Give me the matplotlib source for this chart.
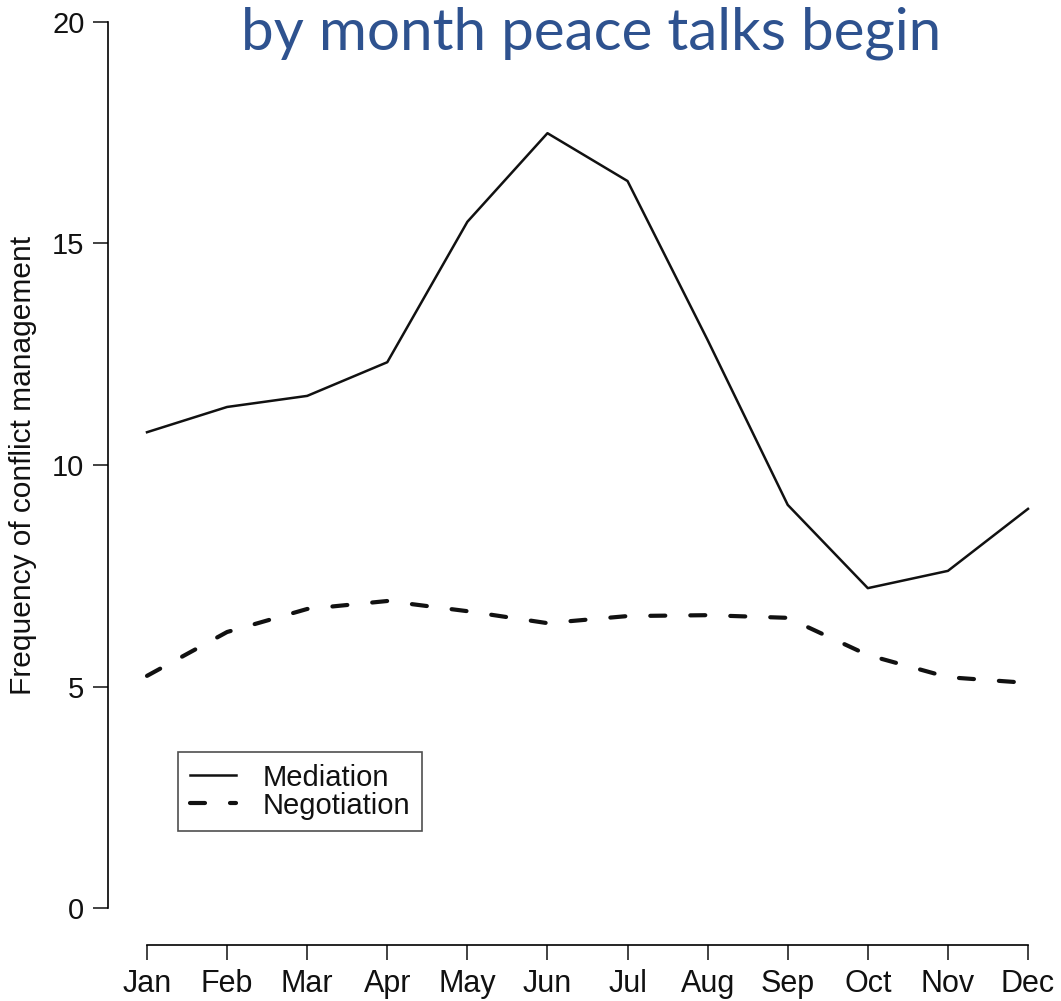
import numpy as np
import matplotlib.pyplot as plt

# ---------------------------
# Data
# ---------------------------
months = ['Jan', 'Feb', 'Mar', 'Apr', 'May', 'Jun',
          'Jul', 'Aug', 'Sep', 'Oct', 'Nov', 'Dec']
mediation = [10.74, 11.31, 11.56, 12.32, 15.49, 17.49,
             16.41, 12.82, 9.10, 7.22, 7.61, 9.01]
negotiation = [5.24, 6.23, 6.75, 6.93, 6.70, 6.43,
               6.59, 6.61, 6.55, 5.71, 5.21, 5.08]
yticks = [0, 5, 10, 15, 20]

W, H = 1061, 1001
fig = plt.figure(figsize=(W / 100, H / 100), dpi=100)
plt.rcParams['font.family'] = ['Liberation Sans', 'DejaVu Sans']

# axes placed in pixel terms: left spine at x=108, bottom axis at y=945, top (20) at y=22
left_px, right_px, top_px, bottom_px = 108, 1061, 22, 945
ax = fig.add_axes([left_px / W, 1 - bottom_px / H,
                   (right_px - left_px) / W, (bottom_px - top_px) / H])

x = np.arange(1, 13)
ax.plot(x, mediation, color='#111111', lw=1.8, label='Mediation')
ax.plot(x, negotiation, color='#111111', lw=3.0, dashes=(3.6, 6.0),
        dash_capstyle='round', label='Negotiation')

px_per_month = (1028 - 147) / 11
ax.set_xlim(1 - (147 - left_px) / px_per_month, 1 + (right_px - 147) / px_per_month)
px_per_unit = (908 - 22) / 20
ax.set_ylim(-(bottom_px - 908) / px_per_unit, 20)

for s in ['top', 'right']:
    ax.spines[s].set_visible(False)
ax.spines['left'].set_bounds(0, 20)
ax.spines['bottom'].set_bounds(1, 12)
ax.spines['left'].set_linewidth(1.2)
ax.spines['bottom'].set_linewidth(1.2)

ax.set_xticks(x)
ax.set_xticklabels(months, fontsize=22)
ax.set_yticks(yticks)
ax.set_yticklabels([str(v) for v in yticks], fontsize=21)
ax.tick_params(axis='both', length=11, width=1.2, color='#222222', labelcolor='#111111')
ax.tick_params(axis='x', pad=6)
ax.tick_params(axis='y', pad=6)

ax.set_ylabel('Frequency of conflict management', fontsize=21.5, color='#111111')
ax.yaxis.set_label_coords((37 - left_px) / (right_px - left_px),
                          (bottom_px - 465) / (bottom_px - top_px))

leg = ax.legend(loc='upper left', bbox_to_anchor=(178 / W, 1 - 752 / H),
                bbox_transform=fig.transFigure, fontsize=21, frameon=True,
                fancybox=False, edgecolor='#222222', handlelength=1.6,
                handletextpad=0.9, borderpad=0.4, labelspacing=0.0,
                borderaxespad=0)
leg.get_frame().set_linewidth(1.2)
for t in leg.get_texts():
    t.set_color('#111111')

fig.text(591 / W, 1 - 50 / H, 'by month peace talks begin', ha='center',
         va='baseline', fontsize=42, color='#2E528F',
         family=['Lato', 'DejaVu Sans'])

plt.savefig('out.png', dpi=100, facecolor='white')
